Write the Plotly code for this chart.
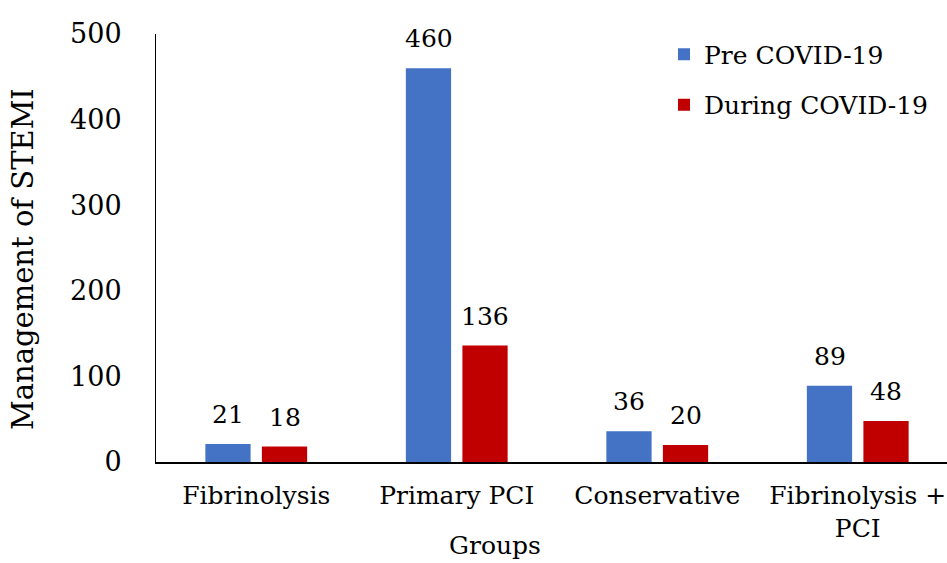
import plotly.graph_objects as go

# Treatment groups and counts of STEMI cases managed in each period
groups = ["Fibrinolysis", "Primary PCI", "Conservative", "Fibrinolysis +<br>PCI"]
pre_covid = [21, 460, 36, 89]
during_covid = [18, 136, 20, 48]
series_names = ["Pre COVID-19", "During COVID-19"]
series_colors = ["#4472C4", "#C00000"]
y_ticks = [0, 100, 200, 300, 400, 500]

FONT = "DejaVu Serif"
W, H = 947, 563
L, R, T, B = 156, 0, 34, 101
CAT_PX = 200.5
plot_w = W - L - R
plot_h = H - T - B

fig = go.Figure()
for name, vals, col in zip(series_names, [pre_covid, during_covid], series_colors):
    fig.add_trace(go.Bar(
        x=groups, y=vals, name=name, marker=dict(color=col, line=dict(width=0)),
        legendgroup=name,
    ))

# value labels above each bar
offsets = [-28.25, 28.25]
for vals, dx in zip([pre_covid, during_covid], offsets):
    for g, v in zip(groups, vals):
        fig.add_annotation(
            x=g, y=v, text=str(v), showarrow=False, xshift=dx, yshift=13,
            yanchor="bottom", font=dict(family=FONT, size=25, color="#000"),
        )

# axis titles
fig.add_annotation(
    xref="paper", yref="paper", x=(23 - L) / plot_w, y=(H - B - 259) / plot_h,
    xanchor="center", yanchor="middle",
    text="Management of STEMI", textangle=-90, showarrow=False,
    font=dict(family=FONT, size=29, color="#000"),
)
fig.add_annotation(
    xref="paper", yref="paper", x=(495 - L) / plot_w, y=-(H - 1 - (H - B)) / plot_h,
    xanchor="center", yanchor="bottom",
    text="Groups", showarrow=False,
    font=dict(family=FONT, size=25, color="#000"),
)

fig.update_layout(
    width=W, height=H,
    margin=dict(l=L, r=R, t=T, b=B, pad=0, autoexpand=False),
    paper_bgcolor="white", plot_bgcolor="white",
    barmode="group", bargap=0.436, bargroupgap=0.2,
    font=dict(family=FONT, size=25, color="#000"),
    showlegend=True,
    legend=dict(
        x=(664 - L) / plot_w, y=1.006,
        xanchor="left", yanchor="top", traceorder="grouped", tracegroupgap=15,
        font=dict(family=FONT, size=25, color="#000"), bgcolor="rgba(0,0,0,0)",
    ),
)
fig.update_xaxes(
    range=[-0.5, -0.5 + plot_w / CAT_PX], showgrid=False, zeroline=False,
    showline=True, linecolor="#000", linewidth=2, ticks="", tickangle=0,
    automargin=False, ticklabelstandoff=10,
    tickfont=dict(family=FONT, size=25, color="#000"),
)
fig.update_yaxes(
    range=[0, 500], tickvals=y_ticks, showgrid=False, zeroline=False,
    showline=True, linecolor="#000", linewidth=1, ticks="", automargin=False,
    ticklabelstandoff=28, tickfont=dict(family=FONT, size=27, color="#000"),
)

fig.write_html("out.html")
